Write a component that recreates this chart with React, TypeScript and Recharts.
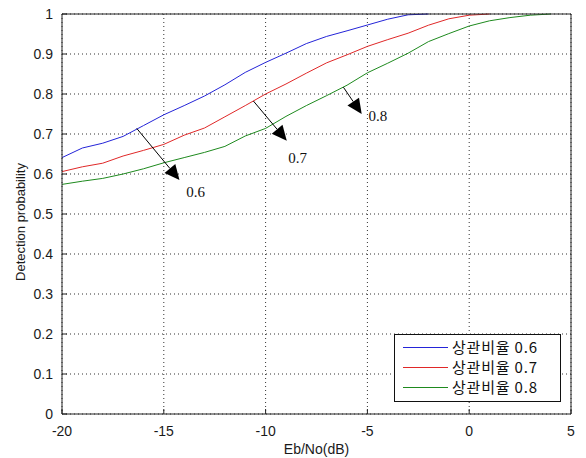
import { LineChart, Line, XAxis, YAxis, CartesianGrid, Legend, ReferenceLine, ReferenceDot } from 'recharts';

// Eb/No points (dB)
const ebNo = [-20, -19, -18, -17, -16, -15, -14, -13, -12, -11, -10, -9, -8, -7, -6, -5, -4, -3, -2, -1, 0, 1, 2, 3, 4];

// detection probability per correlation ratio
const ratio06 = [0.641, 0.665, 0.677, 0.694, 0.721, 0.748, 0.771, 0.795, 0.823, 0.854, 0.879, 0.902, 0.926, 0.944, 0.958, 0.9725, 0.987, 0.998, 1.0];
const ratio07 = [0.606, 0.618, 0.627, 0.645, 0.659, 0.674, 0.697, 0.715, 0.743, 0.771, 0.8, 0.825, 0.852, 0.878, 0.898, 0.919, 0.936, 0.952, 0.972, 0.988, 0.997, 1.0];
const ratio08 = [0.574, 0.582, 0.589, 0.6, 0.613, 0.628, 0.641, 0.654, 0.669, 0.695, 0.714, 0.744, 0.771, 0.796, 0.822, 0.853, 0.877, 0.902, 0.931, 0.951, 0.97, 0.983, 0.991, 0.997, 1.0];

const seriesNames = ['상관비율 0.6', '상관비율 0.7', '상관비율 0.8'];
const seriesColors = ['#2424d8', '#e02828', '#1e8a1e'];

const xTicks = [-20, -15, -10, -5, 0, 5];
const yTicks = [0, 0.1, 0.2, 0.3, 0.4, 0.5, 0.6, 0.7, 0.8, 0.9, 1];

// annotation arrows: [x, y] in data units
const arrowStarts = [[-16.33, 0.714], [-10.6, 0.7825], [-6.18, 0.817]];
const arrowTips = [[-14.23, 0.585], [-8.96, 0.683], [-5.28, 0.75]];
const arrowLabels = ['0.6', '0.7', '0.8'];
const arrowLabelPos = [[-13.44, 0.554], [-8.43, 0.639], [-4.48, 0.745]];

const data = ebNo.map((x, i) => ({
  x,
  r06: ratio06[i] ?? null,
  r07: ratio07[i] ?? null,
  r08: ratio08[i] ?? null,
}));

const sans = '"Liberation Sans", Arial, sans-serif';
const tickStyle = { fontFamily: sans, fontSize: 14, fill: '#1a1a1a' };

const Arrow = (p: any) => {
  const { x1, y1, x2, y2 } = p;
  const dx = x2 - x1;
  const dy = y2 - y1;
  const len = Math.hypot(dx, dy) || 1;
  const ux = dx / len;
  const uy = dy / len;
  const hl = 15;
  const hw = 7;
  const bx = x2 - ux * hl;
  const by = y2 - uy * hl;
  const pts = `${x2},${y2} ${bx - uy * hw},${by + ux * hw} ${bx + uy * hw},${by - ux * hw}`;
  return (
    <g>
      <line x1={x1} y1={y1} x2={bx} y2={by} stroke="#000" strokeWidth={1} />
      <polygon points={pts} fill="#000" />
    </g>
  );
};

const renderLegend = (props: any) => {
  const items = props.payload || [];
  return (
    <div
      style={{
        border: '1px solid #111',
        background: '#fff',
        width: 167,
        height: 68,
        boxSizing: 'border-box',
        paddingTop: 2,
      }}
    >
      {items.map((e: any) => {
        const idx = seriesNames.indexOf(e.value);
        const color = idx >= 0 ? seriesColors[idx] : e.color;
        return (
          <div key={e.value} style={{ display: 'flex', alignItems: 'center', height: 20 }}>
            <div style={{ marginLeft: 8, width: 45, height: 1, background: color }} />
            <span
              style={{
                marginLeft: 4,
                fontFamily: '"Noto Sans CJK KR", sans-serif',
                fontSize: 15,
                letterSpacing: 0.8,
                color: '#111',
                lineHeight: '20px',
              }}
            >
              {e.value}
            </span>
          </div>
        );
      })}
    </div>
  );
};

export default function App() {
  return (
    <div style={{ position: 'absolute', left: 0, top: 0, width: 586, height: 458, background: '#fff' }}>
      <LineChart width={586} height={458} data={data} margin={{ top: 13, right: 14, bottom: 0, left: 0 }}>
        <CartesianGrid strokeDasharray="1 3" stroke="#333" />
        <XAxis
          dataKey="x"
          type="number"
          domain={[-20, 5]}
          ticks={xTicks}
          height={44}
          tickSize={-5}
          tickMargin={17}
          stroke="#222"
          tick={tickStyle}
          label={{ value: 'Eb/No(dB)', position: 'insideBottom', offset: 4, style: { fontFamily: sans, fontSize: 14, fill: '#1a1a1a' } }}
        />
        <XAxis xAxisId="top" orientation="top" type="number" domain={[-20, 5]} ticks={xTicks} height={1} tickSize={-5} tick={false} stroke="#222" />
        <YAxis
          type="number"
          domain={[0, 1]}
          ticks={yTicks}
          width={62}
          tickSize={-5}
          tickMargin={14}
          stroke="#222"
          tick={tickStyle}
          label={{
            content: () => (
              <text
                x={20}
                y={222}
                transform="rotate(-90 20 222)"
                textAnchor="middle"
                dominantBaseline="central"
                style={{ fontFamily: sans, fontSize: 13, fill: '#1a1a1a' }}
              >
                Detection probability
              </text>
            ),
          }}
        />
        <YAxis yAxisId="right" orientation="right" type="number" domain={[0, 1]} ticks={yTicks} width={1} tickSize={-5} tick={false} stroke="#222" />
        <Line type="linear" dataKey="r06" name={seriesNames[0]} stroke={seriesColors[0]} strokeWidth={1} dot={false} isAnimationActive={false} />
        <Line type="linear" dataKey="r07" name={seriesNames[1]} stroke={seriesColors[1]} strokeWidth={1} dot={false} isAnimationActive={false} />
        <Line type="linear" dataKey="r08" name={seriesNames[2]} stroke={seriesColors[2]} strokeWidth={1} dot={false} isAnimationActive={false} />
        {arrowStarts.map((s, i) => (
          <ReferenceLine
            key={`arrow-${i}`}
            segment={[
              { x: s[0], y: s[1] },
              { x: arrowTips[i][0], y: arrowTips[i][1] },
            ]}
            shape={Arrow}
          />
        ))}
        {arrowLabelPos.map((p, i) => (
          <ReferenceDot
            key={`lbl-${i}`}
            x={p[0]}
            y={p[1]}
            r={1}
            shape={(d: any) => (
              <text
                x={d.cx}
                y={d.cy}
                textAnchor="middle"
                dominantBaseline="central"
                style={{ fontFamily: '"Liberation Serif", "Times New Roman", serif', fontSize: 15, fill: '#111' }}
              >
                {arrowLabels[i]}
              </text>
            )}
          />
        ))}
        <Legend
          layout="vertical"
          align="center"
          verticalAlign="middle"
          content={renderLegend}
          wrapperStyle={{ left: 394, top: 334, width: 167, height: 68 }}
        />
      </LineChart>
    </div>
  );
}
